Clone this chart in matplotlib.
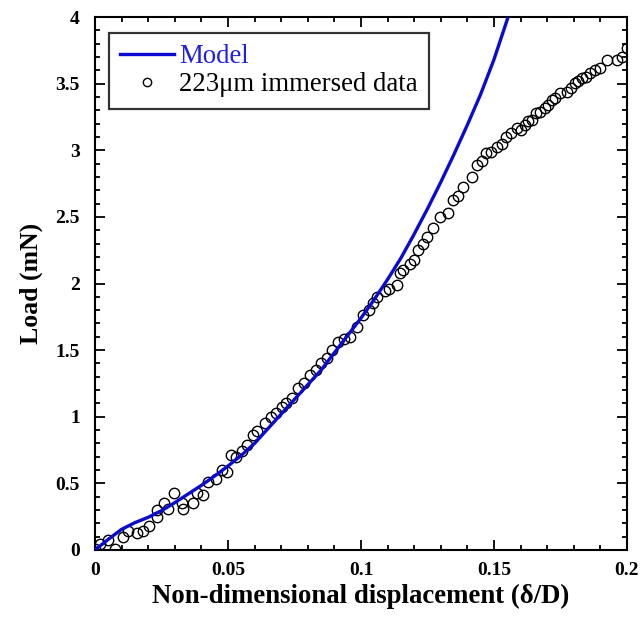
import matplotlib
matplotlib.use("Agg")
import matplotlib.pyplot as plt
from matplotlib.ticker import MultipleLocator, FixedLocator

# Model curve
model_x = [0, 0.005, 0.01, 0.015, 0.02, 0.025, 0.03, 0.035, 0.04, 0.045, 0.05,
           0.055, 0.06, 0.065, 0.07, 0.075, 0.08, 0.085, 0.09, 0.095, 0.1,
           0.105, 0.11, 0.115, 0.12, 0.125, 0.13, 0.135, 0.14, 0.145, 0.15, 0.155, 0.158]
model_y = [0, 0.08, 0.155, 0.205, 0.245, 0.295, 0.355, 0.42, 0.485, 0.555, 0.63,
           0.71, 0.80, 0.91, 1.02, 1.13, 1.24, 1.35, 1.48, 1.61, 1.74,
           1.88, 2.03, 2.19, 2.37, 2.56, 2.76, 2.97, 3.19, 3.42, 3.68, 3.98, 4.18]

# Measured data (223 um immersed)
data_x = [0.0000, 0.0019, 0.0050, 0.0075, 0.0106, 0.0125, 0.0157, 0.0182, 0.0204, 0.0232,
          0.0232, 0.0259, 0.0276, 0.0297, 0.0326, 0.0332, 0.0367, 0.0382, 0.0407, 0.0426,
          0.0455, 0.0476, 0.0495, 0.0513, 0.0532, 0.0551, 0.0572, 0.0595, 0.0610, 0.0639,
          0.0660, 0.0680, 0.0702, 0.0720, 0.0739, 0.0764, 0.0785, 0.0808, 0.0830, 0.0850,
          0.0871, 0.0890, 0.0915, 0.0935, 0.0959, 0.0984, 0.1009, 0.1030, 0.1046, 0.1061,
          0.1090, 0.1105, 0.1134, 0.1147, 0.1160, 0.1184, 0.1200, 0.1216, 0.1234, 0.1247,
          0.1272, 0.1297, 0.1328, 0.1347, 0.1365, 0.1385, 0.1416, 0.1435, 0.1455, 0.1472,
          0.1490, 0.1510, 0.1530, 0.1547, 0.1566, 0.1585, 0.1600, 0.1617, 0.1630, 0.1642,
          0.1660, 0.1675, 0.1692, 0.1705, 0.1717, 0.1730, 0.1748, 0.1773, 0.1790, 0.1805,
          0.1818, 0.1830, 0.1845, 0.1861, 0.1880, 0.1899, 0.1924, 0.1962, 0.1980, 0.1999]
data_y = [0.005, 0.045, 0.075, 0.010, 0.100, 0.140, 0.125, 0.140, 0.180, 0.250,
          0.300, 0.355, 0.310, 0.425, 0.350, 0.310, 0.350, 0.425, 0.410, 0.510,
          0.530, 0.600, 0.583, 0.710, 0.700, 0.740, 0.790, 0.860, 0.890, 0.950,
          1.000, 1.030, 1.076, 1.100, 1.138, 1.213, 1.250, 1.313, 1.350, 1.400,
          1.439, 1.500, 1.563, 1.580, 1.600, 1.676, 1.764, 1.800, 1.850, 1.900,
          1.940, 1.960, 1.990, 2.076, 2.100, 2.150, 2.180, 2.250, 2.300, 2.350,
          2.420, 2.500, 2.527, 2.627, 2.660, 2.727, 2.800, 2.890, 2.920, 2.977,
          2.990, 3.027, 3.050, 3.100, 3.127, 3.165, 3.150, 3.189, 3.220, 3.227,
          3.277, 3.290, 3.314, 3.340, 3.377, 3.390, 3.427, 3.439, 3.470, 3.502,
          3.520, 3.539, 3.550, 3.577, 3.600, 3.614, 3.677, 3.677, 3.700, 3.765]

x_ticks = [0, 0.05, 0.1, 0.15, 0.2]
x_tick_labels = ["0", "0.05", "0.1", "0.15", "0.2"]
y_ticks = [0, 0.5, 1, 1.5, 2, 2.5, 3, 3.5, 4]
y_tick_labels = ["0", "0.5", "1", "1.5", "2", "2.5", "3", "3.5", "4"]

plt.rcParams['font.family'] = ['Liberation Serif', 'DejaVu Serif']

fig = plt.figure(figsize=(6.41, 6.19), dpi=100)
ax = fig.add_axes([0.1482, 0.1115, 0.978 - 0.1482, 0.9725 - 0.1115])

ax.plot(data_x, data_y, linestyle='none', marker='o', markersize=7.5,
        markerfacecolor='none', markeredgecolor='black', markeredgewidth=1.0,
        label='223\u03bcm immersed data', zorder=2)
ax.plot(model_x, model_y, color='#0a0ad2', linewidth=2.4, label='Model', zorder=3)

ax.set_xlim(0, 0.2)
ax.set_ylim(0, 4)
ax.xaxis.set_major_locator(FixedLocator(x_ticks))
ax.set_xticklabels(x_tick_labels)
ax.yaxis.set_major_locator(FixedLocator(y_ticks))
ax.set_yticklabels(y_tick_labels)
ax.xaxis.set_minor_locator(MultipleLocator(0.01))
ax.yaxis.set_minor_locator(MultipleLocator(0.1))
ax.tick_params(which='both', direction='in', top=True, right=True, width=1.3)
ax.tick_params(which='major', length=7, labelsize=14)
ax.tick_params(axis='x', which='major', pad=9)
ax.tick_params(axis='y', which='major', pad=11)
ax.tick_params(which='minor', length=3.5)
for lab in ax.get_xticklabels() + ax.get_yticklabels():
    lab.set_fontweight('bold')
for s in ax.spines.values():
    s.set_linewidth(1.5)

ax.set_xlabel('Non-dimensional displacement (\u03b4/D)', fontsize=19.3, fontweight='bold', labelpad=3)
ax.set_ylabel('Load (mN)', fontsize=18.5, fontweight='bold', labelpad=9)

handles, labels = ax.get_legend_handles_labels()
leg = ax.legend([handles[1], handles[0]], [labels[1], labels[0]], loc='upper left',
                bbox_to_anchor=(0.026, 0.97), fontsize=19.3, frameon=True, fancybox=False,
                edgecolor='black', markerscale=0.8, handlelength=2.0, borderpad=0.42,
                labelspacing=0.12, handletextpad=0.2, borderaxespad=0)
leg.get_frame().set_linewidth(1.6)
leg.get_texts()[0].set_color('#2020e0')
leg.get_texts()[1].set_color('black')

fig.savefig('out.png', dpi=100)
